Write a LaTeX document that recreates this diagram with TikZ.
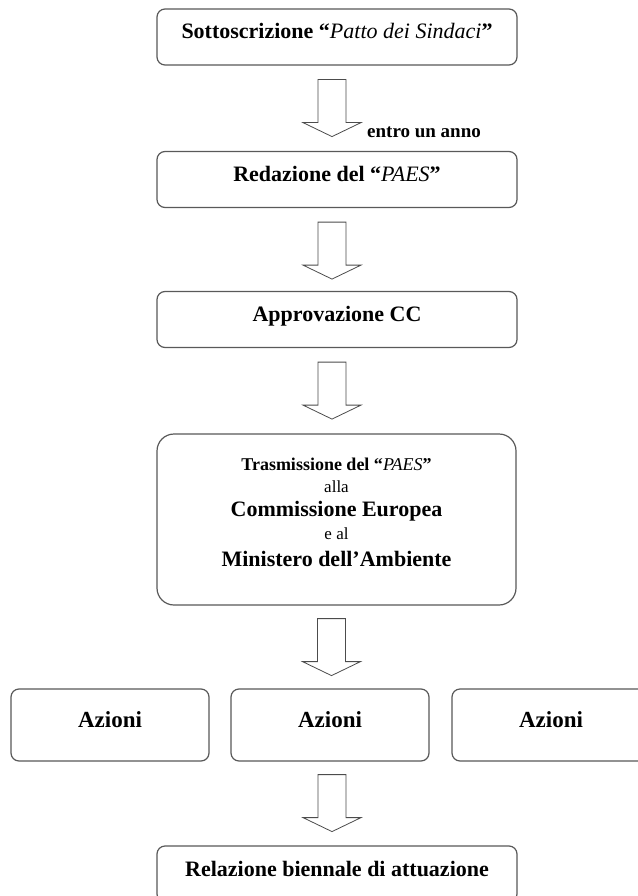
\documentclass[tikz,border=0pt]{standalone}
\usepackage{fontspec}
\setmainfont{Liberation Serif}
\usetikzlibrary{calc}

\newcommand{\corsivo}[1]{{\mdseries\itshape #1}}
\newcommand{\piccolo}[1]{{\mdseries\fontsize{17}{17}\selectfont #1}}

\begin{document}
\begin{tikzpicture}[x=1pt,y=-1pt,
  cornice/.style={draw=black!65,line width=1.2pt,rounded corners=8pt,
    inner sep=0pt,font=\fontsize{22}{22}\selectfont\bfseries},
  box/.style={cornice,minimum width=360pt,minimum height=56pt,
    text height=16pt,text depth=12pt},
  azione/.style={box,minimum width=198pt,minimum height=72pt,
    font=\fontsize{23}{23}\selectfont\bfseries},
  freccia/.style={draw=black!70,line width=0.8pt,fill=white},
  giu/.pic={\draw[freccia] (-14,0) -- (14,0) -- (14,43) -- (29,43)
    -- (0,57) -- (-29,43) -- (-14,43) -- cycle;}]
  \fill[white] (0,0) rectangle (637,896);
  \useasboundingbox (0,0) rectangle (637,896);

  \node[box] (sott) at (337,37) {Sottoscrizione “\corsivo{Patto dei Sindaci}”};
  \node[box] (red) at (337,179.5) {Redazione del “\corsivo{PAES}”};
  \node[box] (appr) at (337,319.5) {Approvazione CC};
  \node[cornice,rounded corners=17pt,minimum width=359pt,minimum height=171pt,
    align=center,text depth=15pt] (trasm) at (336.5,519.5)
    {{\fontsize{18}{18}\selectfont Trasmissione del “\corsivo{PAES}”}\\
     \piccolo{alla}\\[2pt]
     Commissione Europea\\[1pt]
     \piccolo{e al}\\[5pt]
     Ministero dell’Ambiente};
  \node[azione] (az1) at (110,725) {Azioni};
  \node[azione] (az2) at (330,725) {Azioni};
  \node[azione] (az3) at (551,725) {Azioni};
  \node[box] (rel) at (337,874) {Relazione biennale di attuazione};

  % frecce
  \pic at ($(sott.south)+(-5,14)$) {giu};
  \pic at ($(red.south)+(-5,14)$) {giu};
  \pic at ($(appr.south)+(-5,14)$) {giu};
  \pic at ($(trasm.south)+(-5,13)$) {giu};
  \pic at ($(az2.south)+(2,13)$) {giu};
  \node[font=\fontsize{19}{19}\selectfont\bfseries,anchor=base west,
    inner sep=0pt] (entro) at (367,138) {entro un anno};
\end{tikzpicture}
\end{document}
